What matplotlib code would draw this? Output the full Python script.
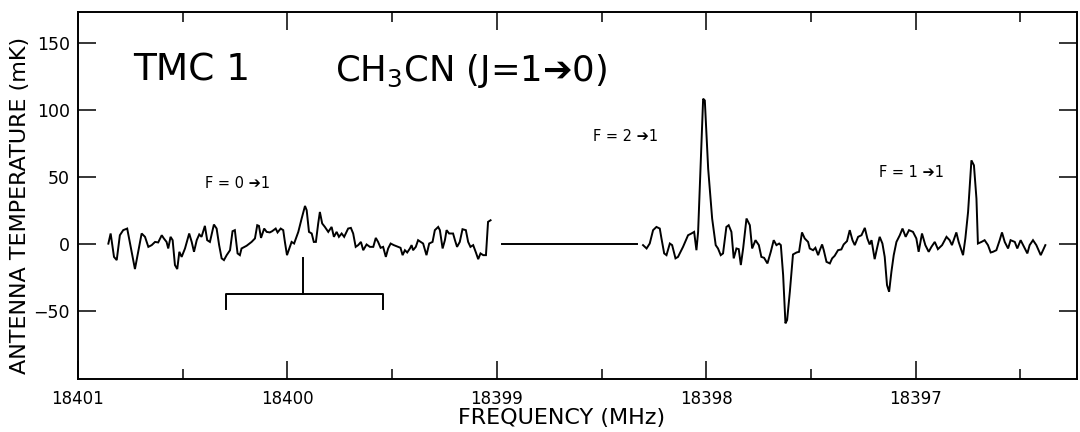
import matplotlib

matplotlib.use("Agg")
import matplotlib.pyplot as plt
from matplotlib.ticker import MultipleLocator

plt.rcParams["font.family"] = ["DejaVu Sans"]
plt.rcParams["mathtext.fontset"] = "dejavusans"

# TMC 1, CH3CN J=1-0 spectrum: antenna temperature (mK) vs frequency (MHz)
freq_a = [18400.855, 18400.844, 18400.828, 18400.815, 18400.800, 18400.784, 18400.765, 18400.744,
          18400.728, 18400.696, 18400.680, 18400.664, 18400.648, 18400.632, 18400.617, 18400.600,
          18400.590, 18400.577, 18400.569, 18400.558, 18400.548, 18400.537, 18400.526, 18400.516,
          18400.505, 18400.489, 18400.469, 18400.457, 18400.446, 18400.433, 18400.421, 18400.410,
          18400.394, 18400.383, 18400.370, 18400.351, 18400.338, 18400.326, 18400.314, 18400.303,
          18400.290, 18400.274, 18400.262, 18400.251, 18400.238, 18400.227, 18400.219, 18400.195,
          18400.171, 18400.155, 18400.144, 18400.136, 18400.126, 18400.111, 18400.099, 18400.084,
          18400.073, 18400.056, 18400.047, 18400.032, 18400.020, 18400.012, 18400.002, 18399.991,
          18399.980, 18399.968, 18399.948, 18399.932, 18399.916, 18399.908, 18399.897, 18399.884,
          18399.874, 18399.864, 18399.853, 18399.845, 18399.834, 18399.821, 18399.805, 18399.789,
          18399.778, 18399.765, 18399.754, 18399.741, 18399.729, 18399.710, 18399.697, 18399.686,
          18399.674, 18399.662, 18399.649, 18399.638, 18399.622, 18399.606, 18399.590, 18399.578,
          18399.567, 18399.555, 18399.543, 18399.530, 18399.519, 18399.507, 18399.492, 18399.471,
          18399.460, 18399.450, 18399.439, 18399.428, 18399.415, 18399.407, 18399.400, 18399.387,
          18399.376, 18399.364, 18399.352, 18399.336, 18399.323, 18399.307, 18399.296, 18399.280,
          18399.272, 18399.259, 18399.248, 18399.240, 18399.228, 18399.209, 18399.200, 18399.190,
          18399.177, 18399.164, 18399.148, 18399.137, 18399.126, 18399.113, 18399.100, 18399.089,
          18399.078, 18399.065, 18399.052, 18399.042, 18399.030]
temp_a = [0, 7.6, -9.9, -12.3, 6.3, 10.1, 11.3, -6.1,
          -19.0, 7.6, 5.1, -2.4, -1.1, 1.3, 0.9, 6.3,
          3.9, 1.3, -3.6, 5.1, 2.6, -16.0, -19.0, -6.1,
          -9.9, -3.6, 7.6, 1.3, -6.1, 2.6, 6.9, 5.1,
          13.3, 2.6, 1.3, 14.3, 11.3, -1.1, -11.0, -12.3,
          -8.6, -4.9, 9.3, 10.1, -7.3, -8.6, -3.6, -1.6,
          1.3, 3.9, 13.8, 13.3, 4.3, 11.3, 8.8, 8.4,
          9.3, 11.3, 8.4, 11.3, 10.1, 1.3, -8.6, -3.6,
          1.3, 0.1, 8.8, 18.8, 28.2, 25.0, 8.8, 7.6,
          1.3, 1.3, 15.1, 23.7, 15.1, 12.5, 8.8, 12.5,
          5.1, 8.8, 5.1, 7.6, 5.1, 11.3, 11.8, 7.6,
          -2.4, -1.1, 1.3, -4.9, -0.6, -2.4, -2.4, 4.3,
          1.3, -3.1, -2.4, -9.9, -3.6, 0.1, -1.1, -2.4,
          -3.1, -8.6, -4.9, -6.6, -3.6, -1.1, -4.9, -2.4,
          2.6, 1.3, 0.1, -8.6, 0.1, 1.3, 10.1, 12.5,
          10.1, -3.6, 2.6, 10.1, 7.6, 7.6, 2.6, -2.4,
          1.3, 10.8, 10.1, 1.3, -2.4, -1.1, -6.6, -11.6,
          -7.3, -8.6, -8.6, 16.3, 17.5]

# blanked channels drawn as a flat baseline
freq_gap = [18398.976, 18398.332]
temp_gap = [0, 0]

freq_c = [18398.302, 18398.285, 18398.270, 18398.254, 18398.238, 18398.222, 18398.214, 18398.201,
          18398.190, 18398.174, 18398.163, 18398.147, 18398.135, 18398.111, 18398.087, 18398.071,
          18398.058, 18398.047, 18398.039, 18398.015, 18398.007, 18397.991, 18397.972, 18397.955,
          18397.944, 18397.931, 18397.920, 18397.904, 18397.893, 18397.880, 18397.869, 18397.856,
          18397.845, 18397.835, 18397.824, 18397.808, 18397.792, 18397.781, 18397.765, 18397.749,
          18397.737, 18397.724, 18397.708, 18397.692, 18397.678, 18397.665, 18397.652, 18397.644,
          18397.633, 18397.622, 18397.614, 18397.601, 18397.586, 18397.569, 18397.557, 18397.543,
          18397.530, 18397.514, 18397.506, 18397.490, 18397.479, 18397.466, 18397.458, 18397.447,
          18397.439, 18397.426, 18397.410, 18397.399, 18397.387, 18397.371, 18397.355, 18397.344,
          18397.328, 18397.315, 18397.302, 18397.291, 18397.275, 18397.259, 18397.243, 18397.231,
          18397.220, 18397.211, 18397.196, 18397.185, 18397.172, 18397.159, 18397.148, 18397.137,
          18397.127, 18397.116, 18397.105, 18397.092, 18397.076, 18397.063, 18397.048, 18397.032,
          18397.013, 18396.997, 18396.986, 18396.970, 18396.954, 18396.938, 18396.925, 18396.909,
          18396.894, 18396.874, 18396.853, 18396.838, 18396.827, 18396.806, 18396.795, 18396.774,
          18396.763, 18396.750, 18396.734, 18396.722, 18396.710, 18396.703, 18396.686, 18396.671,
          18396.655, 18396.642, 18396.631, 18396.615, 18396.599, 18396.588, 18396.575, 18396.559,
          18396.547, 18396.527, 18396.515, 18396.499, 18396.483, 18396.467, 18396.456, 18396.440,
          18396.424, 18396.403, 18396.392, 18396.381]
temp_c = [-1.1, -3.6, 0.1, 10.1, 12.5, 11.3, 3.9, -7.3,
          -8.6, 0.1, -1.1, -11.0, -9.9, -2.4, 6.3, 7.6,
          8.8, -4.9, 8.8, 108.4, 107.1, 56.1, 18.8, -1.1,
          -3.6, -8.6, -7.3, 12.5, 13.8, 8.8, -11.0, -3.6,
          -4.1, -16.0, -3.6, 18.8, 13.8, -3.6, 2.6, -1.1,
          -9.9, -10.6, -14.8, -6.1, 2.6, -1.1, 0.1, -1.1,
          -23.5, -59.6, -57.1, -36.0, -8.1, -6.6, -6.1, 8.4,
          3.9, 1.3, -3.6, -4.9, -3.1, -8.6, -4.9, -0.6,
          -4.9, -13.6, -14.8, -11.0, -9.1, -4.9, -4.3, -0.6,
          1.9, 10.1, 2.6, -1.1, 5.1, 6.3, 11.8, 3.9,
          -0.6, 2.6, -11.6, -3.6, 5.1, 0.1, -9.9, -31.0,
          -36.0, -21.0, -8.6, 1.3, 6.3, 11.3, 5.1, 10.1,
          8.8, 3.9, -6.1, 7.6, -1.1, -6.1, -2.4, 1.3,
          -4.1, -1.1, 5.1, 2.6, -1.1, 8.4, 1.3, -8.6,
          3.9, 23.7, 62.3, 58.6, 33.7, 0.1, 1.3, 2.6,
          -1.1, -6.6, -6.1, -4.9, 2.6, 8.4, 1.3, -3.6,
          2.6, 1.3, -3.6, 2.6, -2.4, -7.3, -1.1, 2.6,
          -1.1, -8.6, -4.9, -1.1]

# expected range of the F=0-1 component
bracket_lo, bracket_hi, bracket_mid = 18400.294, 18399.543, 18399.925
bracket_level, bracket_foot, bracket_stem = -38.0, -49.0, -11.0

fig = plt.figure(figsize=(10.8, 4.32), dpi=100)
ax = fig.add_axes([0.0722, 0.1234, 0.925, 0.848])

lw = 1.4
for f, t in [(freq_a, temp_a), (freq_gap, temp_gap), (freq_c, temp_c)]:
    ax.plot(f, t, color="black", lw=lw, solid_joinstyle="miter")

ax.plot([bracket_lo, bracket_lo, bracket_hi, bracket_hi],
        [bracket_foot, bracket_level, bracket_level, bracket_foot], color="black", lw=lw)
ax.plot([bracket_mid, bracket_mid], [bracket_level, bracket_stem], color="black", lw=lw)

ax.set_xlim(18401.0, 18396.23)
ax.set_ylim(-101, 173)

ax.xaxis.set_major_locator(MultipleLocator(1))
ax.xaxis.set_minor_locator(MultipleLocator(0.5))
ax.set_yticks([-50, 0, 50, 100, 150])
ax.xaxis.set_major_formatter(plt.FuncFormatter(lambda v, p: f"{v:.0f}"))
ax.tick_params(which="both", direction="in", top=True, right=True, width=1.1, colors="black")
ax.tick_params(which="major", length=13)
ax.tick_params(which="minor", length=7)
ax.tick_params(axis="x", labelsize=12, pad=8)
ax.tick_params(axis="y", labelsize=12.5, pad=6)
for s in ax.spines.values():
    s.set_linewidth(1.4)

ax.text(18400.737, 122, "TMC 1", fontsize=27, va="baseline", ha="left")
ax.text(18399.773, 122, "CH$_3$CN (J=1➔0)", fontsize=25.5, va="baseline", ha="left")
ax.text(18400.394, 45, "F = 0 ➔1", fontsize=10.5, va="center", ha="left")
ax.text(18398.542, 80, "F = 2 ➔1", fontsize=10.5, va="center", ha="left")
ax.text(18397.177, 53, "F = 1 ➔1", fontsize=10.5, va="center", ha="left")

fig.text(20 / 1080, 1 - 205 / 432, "ANTENNA TEMPERATURE (mK)", rotation=90,
         fontsize=16, ha="center", va="center")
fig.text(562 / 1080, 1 - 424 / 432, "FREQUENCY (MHz)", fontsize=16,
         ha="center", va="baseline")

fig.savefig("out.png", dpi=100, facecolor="white")
